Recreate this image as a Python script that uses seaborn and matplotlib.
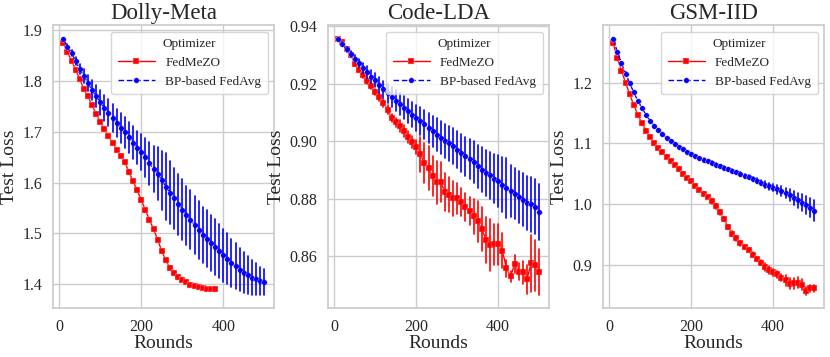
import numpy as np
import pandas as pd
import matplotlib
matplotlib.use("Agg")
import matplotlib.pyplot as plt
import seaborn as sns

# ---------------- data ----------------
rounds_500 = list(range(10, 510, 10))
rounds_380 = list(range(10, 390, 10))

dolly_fedmezo = [1.874, 1.857, 1.840, 1.822, 1.804, 1.784, 1.770, 1.752, 1.736, 1.719,
                 1.705, 1.692, 1.678, 1.665, 1.653, 1.640, 1.621, 1.603, 1.585, 1.566,
                 1.546, 1.527, 1.508, 1.488, 1.465, 1.447, 1.432, 1.422, 1.414, 1.409,
                 1.404, 1.399, 1.397, 1.394, 1.392, 1.391, 1.390, 1.390]
dolly_fedmezo_err = [0.002] * 15 + [0.003] * 15 + [0.002] * 8
dolly_fedavg = [1.882, 1.868, 1.855, 1.840, 1.823, 1.810, 1.796, 1.782, 1.770, 1.758,
                1.747, 1.738, 1.727, 1.717, 1.708, 1.699, 1.689, 1.679, 1.669, 1.660,
                1.650, 1.638, 1.627, 1.618, 1.605, 1.592, 1.580, 1.569, 1.557, 1.547,
                1.536, 1.527, 1.517, 1.506, 1.497, 1.490, 1.481, 1.473, 1.465, 1.457,
                1.450, 1.442, 1.436, 1.429, 1.423, 1.418, 1.413, 1.410, 1.406, 1.405]
dolly_fedavg_err = [0.003, 0.004, 0.006, 0.008, 0.010, 0.013, 0.016, 0.020, 0.022, 0.024,
                    0.025, 0.026, 0.027, 0.028, 0.029, 0.030, 0.031, 0.032, 0.033, 0.035,
                    0.038, 0.042, 0.046, 0.052, 0.058, 0.066, 0.062, 0.060, 0.060, 0.060,
                    0.058, 0.058, 0.057, 0.057, 0.056, 0.056, 0.055, 0.055, 0.053, 0.052,
                    0.050, 0.047, 0.045, 0.042, 0.040, 0.037, 0.034, 0.031, 0.028, 0.026]

code_fedmezo = [0.9354, 0.9345, 0.9319, 0.9301, 0.9269, 0.9249, 0.9230, 0.9209, 0.9191, 0.9170,
                0.9154, 0.9133, 0.9110, 0.9081, 0.9066, 0.9052, 0.9035, 0.9015, 0.8997, 0.8980,
                0.8954, 0.8925, 0.8907, 0.8878, 0.8857, 0.8857, 0.8824, 0.8814, 0.8801, 0.8801,
                0.8789, 0.8771, 0.8757, 0.8739, 0.8721, 0.8695, 0.8657, 0.8639, 0.8641, 0.8641,
                0.8620, 0.8558, 0.8530, 0.8573, 0.8547, 0.8545, 0.8520, 0.8575, 0.8568, 0.8544]
code_fedmezo_err = [0.0005, 0.0006, 0.0007, 0.0008, 0.0009, 0.0010, 0.0010, 0.0010, 0.0010, 0.0010,
                    0.0015, 0.0015, 0.0015, 0.0015, 0.0015, 0.0020, 0.0020, 0.0020, 0.0020, 0.0025,
                    0.0060, 0.0070, 0.0075, 0.0070, 0.0075, 0.0070, 0.0065, 0.0060, 0.0060, 0.0055,
                    0.0050, 0.0050, 0.0050, 0.0060, 0.0070, 0.0075, 0.0080, 0.0090, 0.0070, 0.0070,
                    0.0060, 0.0030, 0.0020, 0.0030, 0.0030, 0.0040, 0.0050, 0.0100, 0.0090, 0.0080]
code_fedavg = [0.9354, 0.9339, 0.9319, 0.9304, 0.9286, 0.9272, 0.9255, 0.9240, 0.9224, 0.9212,
               0.9195, 0.9180, 0.9166, 0.9154, 0.9141, 0.9130, 0.9116, 0.9104, 0.9092, 0.9081,
               0.9070, 0.9058, 0.9046, 0.9035, 0.9023, 0.9012, 0.9000, 0.8992, 0.8983, 0.8971,
               0.8959, 0.8948, 0.8939, 0.8927, 0.8913, 0.8901, 0.8890, 0.8881, 0.8869, 0.8861,
               0.8849, 0.8838, 0.8826, 0.8818, 0.8806, 0.8797, 0.8786, 0.8780, 0.8772, 0.8754]
code_fedavg_err = [0.0003, 0.0005, 0.0008, 0.0010, 0.0012, 0.0015, 0.0018, 0.0020, 0.0022, 0.0025,
                   0.0027, 0.0030, 0.0032, 0.0034, 0.0036, 0.0038, 0.0040, 0.0042, 0.0044, 0.0046,
                   0.0048, 0.0050, 0.0052, 0.0054, 0.0056, 0.0058, 0.0060, 0.0060, 0.0062, 0.0063,
                   0.0065, 0.0068, 0.0070, 0.0072, 0.0075, 0.0078, 0.0080, 0.0083, 0.0085, 0.0090,
                   0.0095, 0.0105, 0.0090, 0.0088, 0.0090, 0.0092, 0.0094, 0.0096, 0.0095, 0.0098]

gsm_fedmezo = [1.265, 1.240, 1.220, 1.200, 1.181, 1.163, 1.147, 1.133, 1.121, 1.110,
               1.100, 1.092, 1.085, 1.078, 1.071, 1.064, 1.057, 1.050, 1.043, 1.037,
               1.030, 1.023, 1.017, 1.011, 1.004, 0.996, 0.986, 0.975, 0.962, 0.951,
               0.943, 0.935, 0.929, 0.924, 0.916, 0.909, 0.903, 0.896, 0.891, 0.887,
               0.884, 0.878, 0.874, 0.868, 0.869, 0.870, 0.867, 0.856, 0.861, 0.861]
gsm_fedmezo_err = [0.002] * 24 + [0.004] * 13 + [0.006] * 5 + [0.009] * 5 + [0.007, 0.006, 0.006]
gsm_fedavg = [1.272, 1.251, 1.232, 1.215, 1.199, 1.184, 1.170, 1.158, 1.147, 1.137,
              1.129, 1.122, 1.115, 1.109, 1.104, 1.099, 1.094, 1.090, 1.086, 1.082,
              1.079, 1.076, 1.073, 1.071, 1.068, 1.065, 1.062, 1.060, 1.057, 1.055,
              1.052, 1.049, 1.046, 1.044, 1.041, 1.038, 1.035, 1.032, 1.029, 1.027,
              1.024, 1.021, 1.018, 1.015, 1.010, 1.006, 1.002, 0.998, 0.994, 0.989]
gsm_fedavg_err = [0.002] * 30 + [0.003] * 5 + [0.004, 0.004, 0.005, 0.006, 0.006,
                                               0.007, 0.008, 0.009, 0.010, 0.011,
                                               0.012, 0.014, 0.015, 0.016, 0.018]

titles = ["Dolly-Meta", "Code-LDA", "GSM-IID"]
series_names = ["FedMeZO", "BP-based FedAvg"]
panels = [
    ((rounds_380, dolly_fedmezo, dolly_fedmezo_err), (rounds_500, dolly_fedavg, dolly_fedavg_err)),
    ((rounds_500, code_fedmezo, code_fedmezo_err), (rounds_500, code_fedavg, code_fedavg_err)),
    ((rounds_500, gsm_fedmezo, gsm_fedmezo_err), (rounds_500, gsm_fedavg, gsm_fedavg_err)),
]


def build_frame(panel):
    rows = []
    for name, (xs, ms, es) in zip(series_names, panel):
        for x, m, e in zip(xs, ms, es):
            rows.append({"Rounds": x, "Test Loss": m - e, "Optimizer": name})
            rows.append({"Rounds": x, "Test Loss": m + e, "Optimizer": name})
    return pd.DataFrame(rows)


# ---------------- style ----------------
sns.set_theme(style="whitegrid")
plt.rcParams["font.family"] = ["Liberation Serif", "DejaVu Serif"]

fig, axes = plt.subplots(1, 3, figsize=(8.3, 3.57), dpi=100)
fig.subplots_adjust(left=0.0642, right=0.9931, bottom=0.1364, top=0.930, wspace=0.244)

palette = {"FedMeZO": "#ff0000", "BP-based FedAvg": "#0000ff"}
markers = {"FedMeZO": "s", "BP-based FedAvg": "o"}
dashes = {"FedMeZO": "", "BP-based FedAvg": (4, 2)}

for ax, title, panel in zip(axes, titles, panels):
    df = build_frame(panel)
    sns.lineplot(data=df, x="Rounds", y="Test Loss", hue="Optimizer", style="Optimizer",
                 hue_order=series_names, style_order=series_names,
                 palette=palette, markers=markers, dashes=dashes,
                 estimator="mean", errorbar=("pi", 100), err_style="bars",
                 err_kws={"elinewidth": 1.2, "capsize": 0},
                 markersize=4, markeredgewidth=0.3, markeredgecolor="#ffdddd",
                 linewidth=1.0, ax=ax)
    ax.set_title(title, fontsize=16.5, pad=4)
    ax.set_xlabel("Rounds", fontsize=14, labelpad=0)
    ax.set_ylabel("Test Loss", fontsize=14, labelpad=3)
    ax.set_xticks([0, 200, 400])
    ax.tick_params(axis="both", labelsize=11.5, pad=2)
    for sp in ax.spines.values():
        sp.set_color("#cccccc")
    ax.legend(title="Optimizer", loc="upper right", fontsize=9.5,
              title_fontsize=9.5, frameon=True, borderpad=0.5,
              handlelength=2.8)

axes[1].yaxis.set_major_formatter(matplotlib.ticker.FormatStrFormatter("%.2f"))
axes[0].yaxis.set_major_formatter(matplotlib.ticker.FormatStrFormatter("%.1f"))
axes[2].yaxis.set_major_formatter(matplotlib.ticker.FormatStrFormatter("%.1f"))

fig.savefig("out.png", dpi=100)
